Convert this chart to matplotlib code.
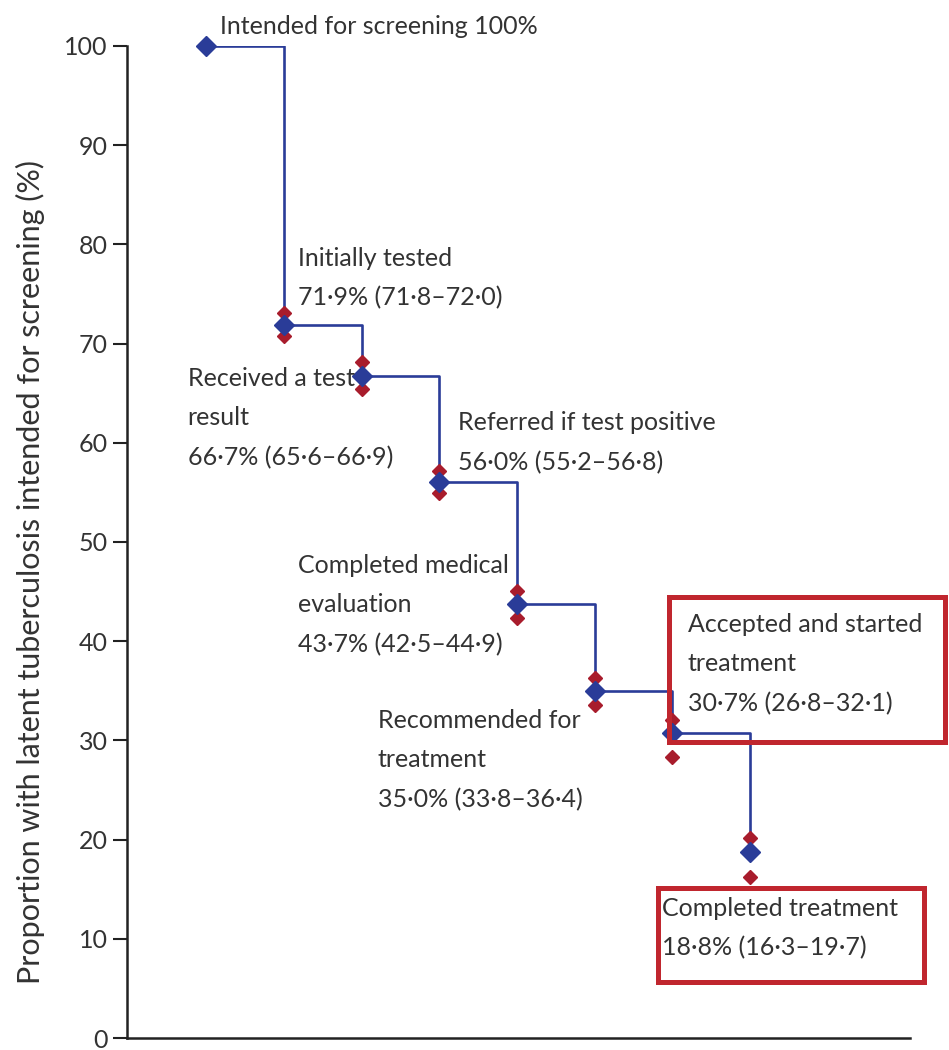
import matplotlib
matplotlib.use("Agg")
from matplotlib import pyplot as plt
from matplotlib.patches import Rectangle

# cascade steps (share of people intended for screening, %)
steps = [
    "Intended for screening",
    "Initially tested",
    "Received a test\nresult",
    "Referred if test positive",
    "Completed medical\nevaluation",
    "Recommended for\ntreatment",
    "Accepted and started\ntreatment",
    "Completed treatment",
]
values = [100.0, 71.9, 66.7, 56.0, 43.7, 35.0, 30.7, 18.8]
ci_text = [None, "71·8–72·0", "65·6–66·9", "55·2–56·8", "42·5–44·9",
           "33·8–36·4", "26·8–32·1", "16·3–19·7"]
# red interval markers as they sit in the picture
ci_upper = [None, 73.1, 68.1, 57.2, 45.1, 36.3, 32.1, 20.2]
ci_lower = [None, 70.8, 65.4, 54.9, 42.3, 33.6, 28.3, 16.2]

# label anchor (x in step units, y in %) for each step
label_x = [0.18, 1.18, -0.24, 3.24, 1.18, 2.21, 6.20, 5.87]
label_y = [102.0, 76.6, 62.5, 60.0, 43.65, 28.0, 37.7, 11.1]

plt.rcParams["font.family"] = ["Lato", "DejaVu Sans"]
TEXT = "#333333"
BLUE = "#2a3c98"
RED = "#a81c2c"

fig = plt.figure(figsize=(9.49, 10.5), dpi=100)
ax = fig.add_axes([127 / 949, 12 / 1050, 783 / 949, 992 / 1050])

x = list(range(len(values)))
ax.plot(x, values, drawstyle="steps-post", color=BLUE, lw=1.9, zorder=2)

for i in x:
    if ci_upper[i] is None:
        continue
    ax.plot([i, i], [ci_upper[i], ci_lower[i]], ls="none", marker="D",
            ms=7, color=RED, zorder=3, clip_on=False)
ax.plot(x, values, ls="none", marker="D", ms=10.5, color=BLUE, zorder=4,
        clip_on=False)

for i, name in enumerate(steps):
    if i == 0:
        txt = f"{name} 100%"
    else:
        v = f"{values[i]:.1f}".replace(".", "·")
        txt = f"{name}\n{v}% ({ci_text[i]})"
    ax.text(label_x[i], label_y[i], txt, ha="left", va="center",
            fontsize=18, color=TEXT, linespacing=1.85, zorder=5)

# red boxes round the last two steps
ax.add_patch(Rectangle((5.96, 29.8), 3.55, 14.7, fill=False, ec="#c0262e",
                       lw=3.6, clip_on=False, zorder=6))
ax.add_patch(Rectangle((5.81, 5.6), 3.43, 9.5, fill=False, ec="#c0262e",
                       lw=3.6, clip_on=False, zorder=6))

ax.set_xlim(-1.02, 9.06)
ax.set_ylim(0, 100)
ax.set_yticks(range(0, 101, 10))
ax.set_xticks([])
ax.spines["top"].set_visible(False)
ax.spines["right"].set_visible(False)
ax.spines["left"].set_linewidth(1.8)
ax.spines["bottom"].set_linewidth(1.8)
ax.spines["left"].set_color("#222222")
ax.spines["bottom"].set_color("#222222")
ax.tick_params(axis="y", length=10, width=1.5, pad=4, labelsize=18,
               colors="#222222", labelcolor=TEXT)
ax.set_ylabel("Proportion with latent tuberculosis intended for screening (%)",
              fontsize=22, color=TEXT)
ax.yaxis.set_label_coords(-0.105, 0.47)

fig.savefig("out.png", dpi=100)
